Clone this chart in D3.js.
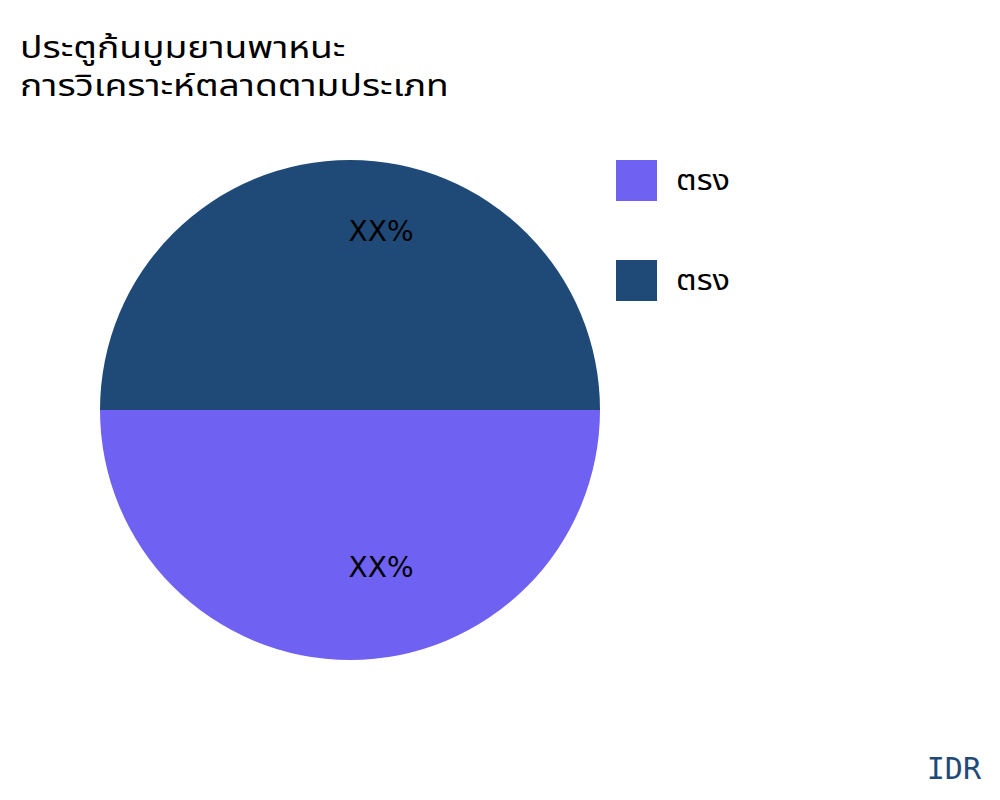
<!DOCTYPE html>
<html>
<head>
<meta charset="utf-8">
<script src="https://cdn.jsdelivr.net/npm/d3@7"></script>
<style>
  body { margin: 0; background: #fff; }
  svg { font-family: "DejaVu Sans", "Noto Sans Thai", "Noto Sans", sans-serif; }
  .th { font-family: "Noto Sans Thai", "Noto Sans Thai UI", "Noto Sans", sans-serif; }
</style>
</head>
<body>
<svg id="chart" width="1000" height="800"></svg>
<script>
const titleLines = ["ประตูก้นบูมยานพาหนะ", "การวิเคราะห์ตลาดตามประเภท"];
const categories = ["ตรง", "ตรง"];
const values = [50, 50];
const labels = ["XX%", "XX%"];
const colors = ["#6F62F2", "#1F4A78"];

function drawPie() {
    const svg = d3.select('#chart');
    svg.selectAll('*').remove();

    const cx = 350, cy = 410, radius = 250;

    // thai glyphs in the reference are wider, so stretch horizontally
    svg.append('g')
        .attr('transform', 'translate(20, 0) scale(1.2, 1)')
        .selectAll('text')
        .data(titleLines)
        .join('text')
        .attr('class', 'th')
        .attr('x', 0)
        .attr('y', (d, i) => 58 + i * 38.5)
        .style('font-size', '31px')
        .style('fill', '#000')
        .text(d => d);

    const pie = d3.pie()
        .value(d => d)
        .sort(null)
        .startAngle(Math.PI / 2)
        .endAngle(Math.PI / 2 + 2 * Math.PI);

    const arc = d3.arc().innerRadius(0).outerRadius(radius);
    const labelArc = d3.arc().innerRadius(168).outerRadius(168);

    const g = svg.append('g').attr('transform', `translate(${cx}, ${cy})`);
    const arcs = pie(values);

    g.selectAll('path')
        .data(arcs)
        .join('path')
        .attr('d', arc)
        .attr('fill', (d, i) => colors[i]);

    g.selectAll('text')
        .data(arcs)
        .join('text')
        .attr('transform', d => {
            const [x, y] = labelArc.centroid(d);
            return `translate(${x + 31}, ${y - 11})`;
        })
        .attr('dy', '0.35em')
        .attr('text-anchor', 'middle')
        .style('font-size', '28px')
        .style('fill', '#000')
        .text((d, i) => labels[i]);

    const legend = svg.append('g').attr('transform', 'translate(616, 160)');
    const items = legend.selectAll('g')
        .data(categories)
        .join('g')
        .attr('transform', (d, i) => `translate(0, ${i * 100})`);

    items.append('rect')
        .attr('width', 41)
        .attr('height', 41)
        .attr('fill', (d, i) => colors[i]);

    items.append('text')
        .attr('class', 'th')
        .attr('transform', 'translate(60, 20.5) scale(1.16, 1)')
        .attr('dy', '0.35em')
        .style('font-size', '28px')
        .style('fill', '#000')
        .text(d => d);

    svg.append('text')
        .attr('x', 981)
        .attr('y', 779)
        .attr('text-anchor', 'end')
        .style('font-family', '"DejaVu Sans Mono", monospace')
        .style('font-size', '30px')
        .style('fill', '#1F4A78')
        .text('IDR');
}

drawPie();
</script>
</body>
</html>
